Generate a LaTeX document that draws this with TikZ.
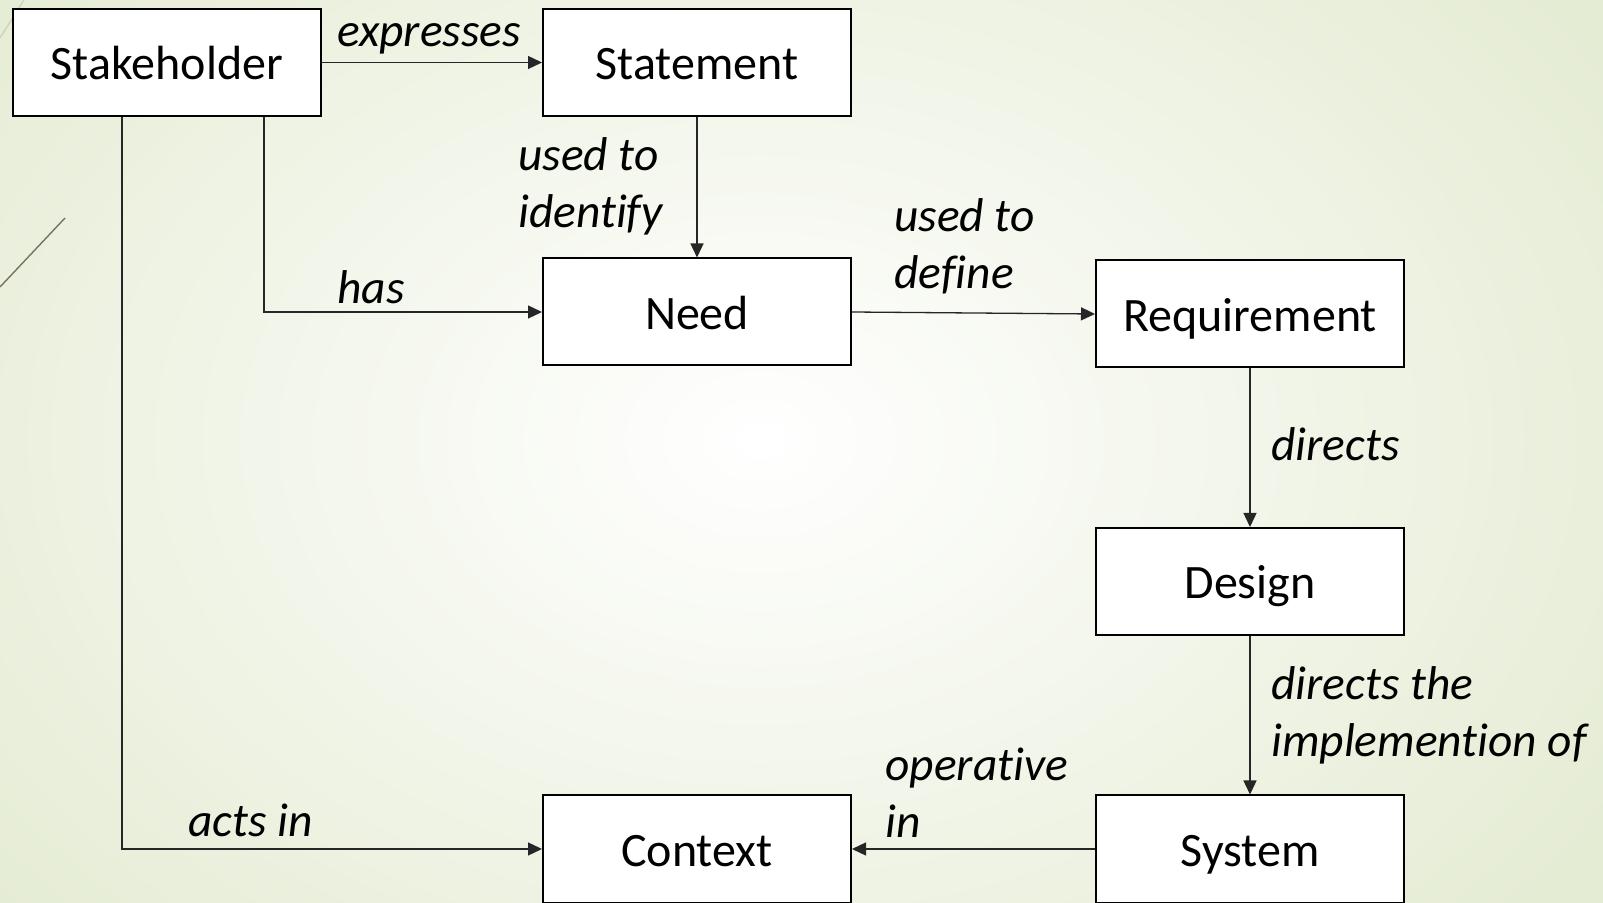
\documentclass[tikz,border=0pt]{standalone}
\usepackage{fontspec}
\setmainfont[Ligatures=NoCommon]{Carlito}
\usetikzlibrary{arrows.meta,calc}
\definecolor{bgedge}{RGB}{229,236,212}
\definecolor{decoline}{RGB}{118,116,94}
\definecolor{decofaint}{RGB}{206,211,190}

\begin{document}
\begin{tikzpicture}[x=0.5pt,y=-0.5pt,
  entity/.style={draw=black, line width=1pt, fill=white,
    minimum width=154pt, minimum height=53.5pt, inner sep=0pt,
    font=\fontsize{24}{29}\selectfont, text height=17.4pt, text depth=0pt},
  rel/.style={font=\fontsize{23.7}{28.5}\selectfont\itshape,
    inner sep=0pt, align=left, anchor=west},
  link/.style={draw=black!85, line width=0.65pt,
    -{Triangle[length=7pt,width=6.5pt]}}]

\useasboundingbox (0,0) rectangle (1603,903);

% soft radial backdrop
\fill[bgedge] (0,0) rectangle (1603,903);
\begin{scope}
  \clip (0,0) rectangle (1603,903);
  \shade[inner color=white, outer color=bgedge]
    (760,440) ellipse [x radius=1000, y radius=720];
\end{scope}

% thin decorative strokes at the left edge
\draw[decoline, line width=0.7pt] (0,287) -- (65,218);
\draw[decofaint, line width=0.7pt] (0,38) -- (24,0);

% entities
\node[entity] (stake)   at (167,62.5)  {Stakeholder};
\node[entity] (stmt)    at (697,62.5)  {Statement};
\node[entity] (need)    at (697,312)   {Need};
\node[entity] (req)     at (1250,314)  {Requirement};
\node[entity] (design)  at (1250,581.5){Design};
\node[entity] (context) at (697,849)   {Context};
\node[entity] (system)  at (1250,849)  {System};

% relations
\draw[link] (stake.east) -- (stmt.west);
\draw[link] ($(stake.south)+(97,0)$) |- (need.west);
\draw[link] ($(stake.south)+(-45,0)$) |- (context.west);
\draw[link] (stmt.south) -- (need.north);
\draw[link] (need.east) -- (req.west);
\draw[link] (req.south) -- (design.north);
\draw[link] (design.south) -- (system.north);
\draw[link] (system.west) -- (context.east);

% relation labels
\node[rel] (lexp)   at (337,35)   {\strut expresses};
\node[rel] (lident) at (518,188)  {\strut used to\\\strut identify};
\node[rel] (lhas)   at (337,292)  {\strut has};
\node[rel] (ldef)   at (894,249)  {\strut used to\\\strut define};
\node[rel] (ldir)   at (1271,449) {\strut directs};
\node[rel] (limpl)  at (1271,717) {\strut directs the\\\strut implemention of};
\node[rel] (lop)    at (885,798)  {\strut operative\\\strut in};
\node[rel] (lacts)  at (188,825)  {\strut acts in};
\end{tikzpicture}
\end{document}
